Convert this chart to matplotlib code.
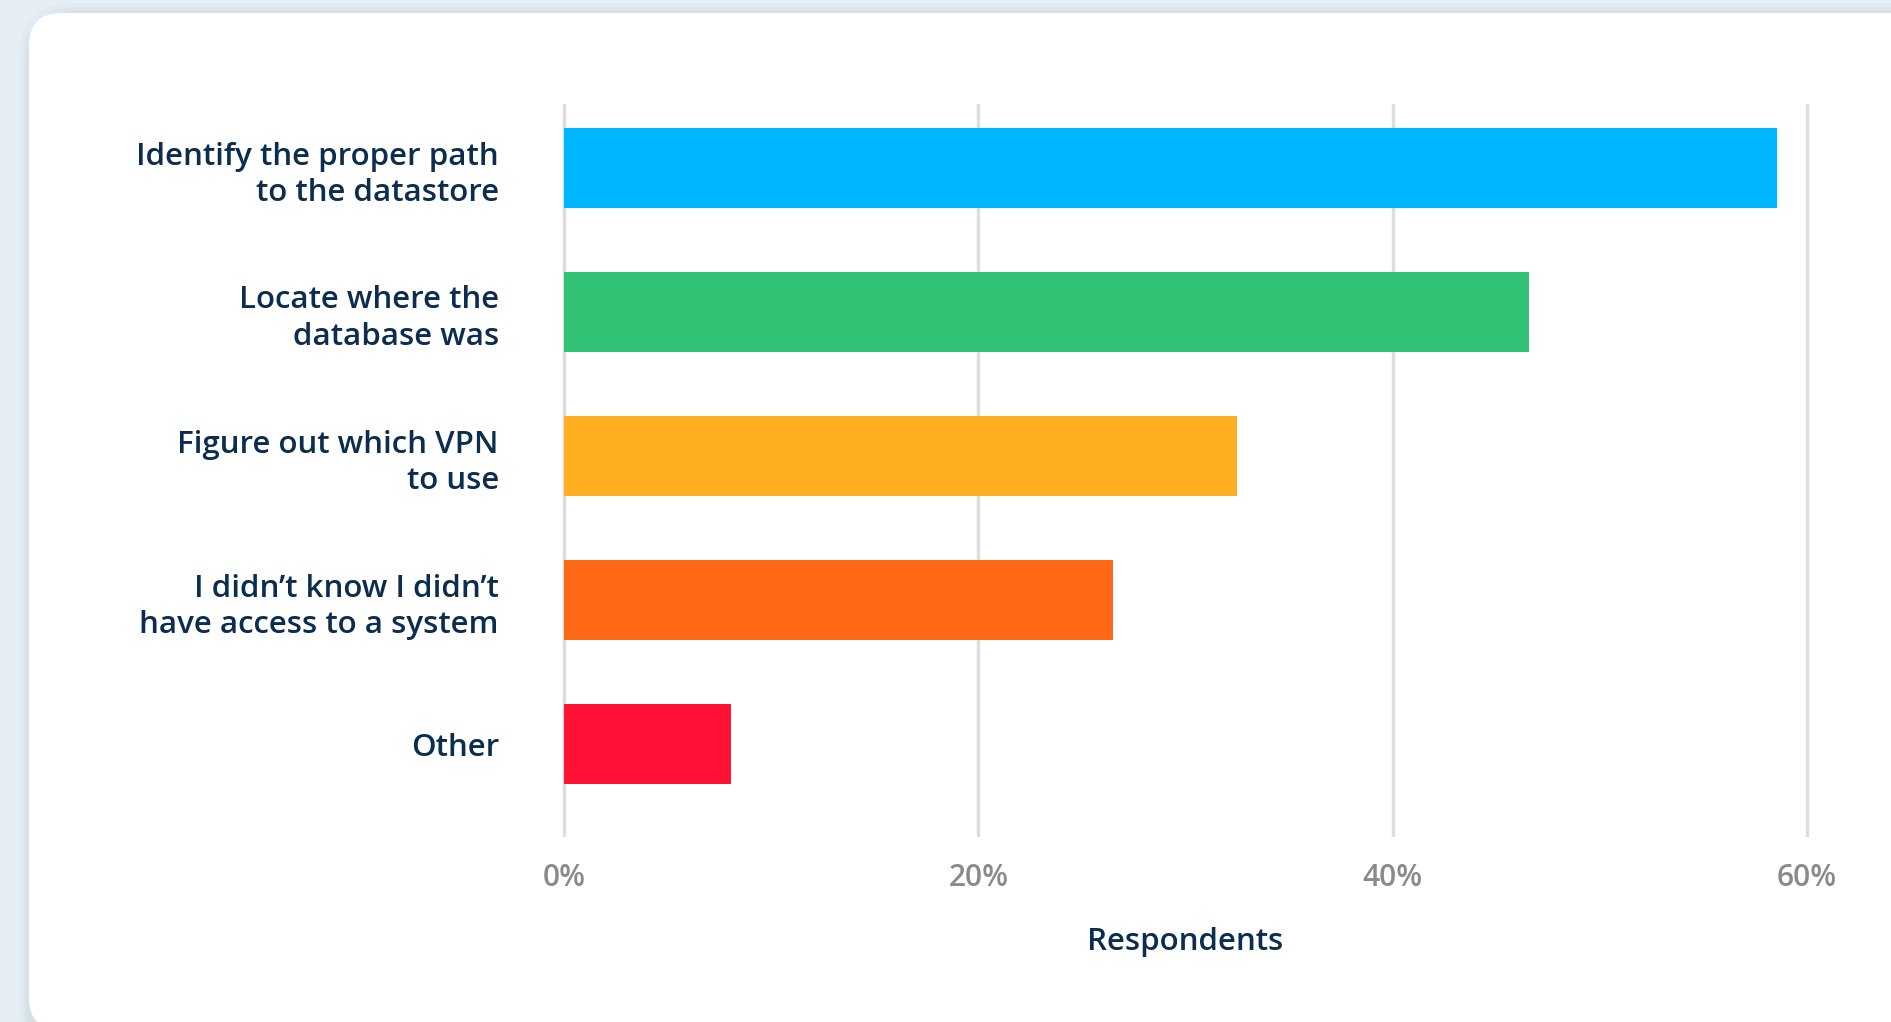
import matplotlib.pyplot as plt
from matplotlib.patches import FancyBboxPatch

# data
categories = ["Identify the proper path\nto the datastore",
              "Locate where the\ndatabase was",
              "Figure out which VPN\nto use",
              "I didn\u2019t know I didn\u2019t\nhave access to a system",
              "Other"]
values = [58.55, 46.6, 32.5, 26.5, 8.05]
bar_colors = ["#00b7ff", "#31c275", "#ffae22", "#ff6814", "#ff1236"]
xticks = [0, 20, 40, 60]
xtick_labels = ["0%", "20%", "40%", "60%"]

navy = "#0b2d4f"
grey = "#8a8a8a"

plt.rcParams['font.family'] = ['Open Sans', 'DejaVu Sans']

W, H = 1891, 1022
fig = plt.figure(figsize=(W / 100, H / 100), dpi=100)
fig.patch.set_facecolor("#e4eef3")

# soft shadow + white card
for off, a in [(10, 0.03), (6, 0.04), (3, 0.05)]:
    fig.patches.append(FancyBboxPatch(((29 - off) / W, -40 / H), (W + 100) / W, (1022 - 13 + 40 + off) / H,
                                      boxstyle="round,pad=0,rounding_size=0.03",
                                      transform=fig.transFigure, facecolor="#6a8595",
                                      edgecolor="none", alpha=a, zorder=0,
                                      mutation_aspect=W / H))
card = FancyBboxPatch((29 / W, -8 / H), (W + 100) / W, (1022 - 13 + 8) / H,
                      boxstyle="round,pad=0,rounding_size=0.017",
                      transform=fig.transFigure, facecolor="white",
                      edgecolor="none", zorder=1, mutation_aspect=W / H)
fig.patches.append(card)

ax = fig.add_axes([560 / W, 185 / H, 1251 / W, 733 / H])
ax.set_facecolor("none")
ax.set_zorder(2)

ypos = list(range(len(categories)))
ax.barh(ypos, values, height=0.556, color=bar_colors, zorder=3)

pad = 4 / 20.717
ax.set_xlim(-pad, 60 + pad)
ax.set_ylim(4 + 93 / 144, -64 / 144)

ax.set_xticks(xticks)
ax.set_xticklabels(xtick_labels, color=grey, fontsize=21.5, fontweight="semibold")
ax.set_yticks(ypos)
ax.set_yticklabels(categories, color=navy, fontsize=22.5, fontweight="semibold",
                   linespacing=1.3)
ax.tick_params(axis="x", length=0, pad=19)
ax.tick_params(axis="y", length=0, pad=44)
ax.xaxis.grid(True, color="#dddddd", linewidth=2.5, zorder=0)
ax.set_axisbelow(True)
for s in ax.spines.values():
    s.set_visible(False)

ax.set_xlabel("Respondents", color=navy, fontsize=22.5, fontweight="semibold", labelpad=24)

fig.savefig("out.png", dpi=100, facecolor=fig.get_facecolor())
